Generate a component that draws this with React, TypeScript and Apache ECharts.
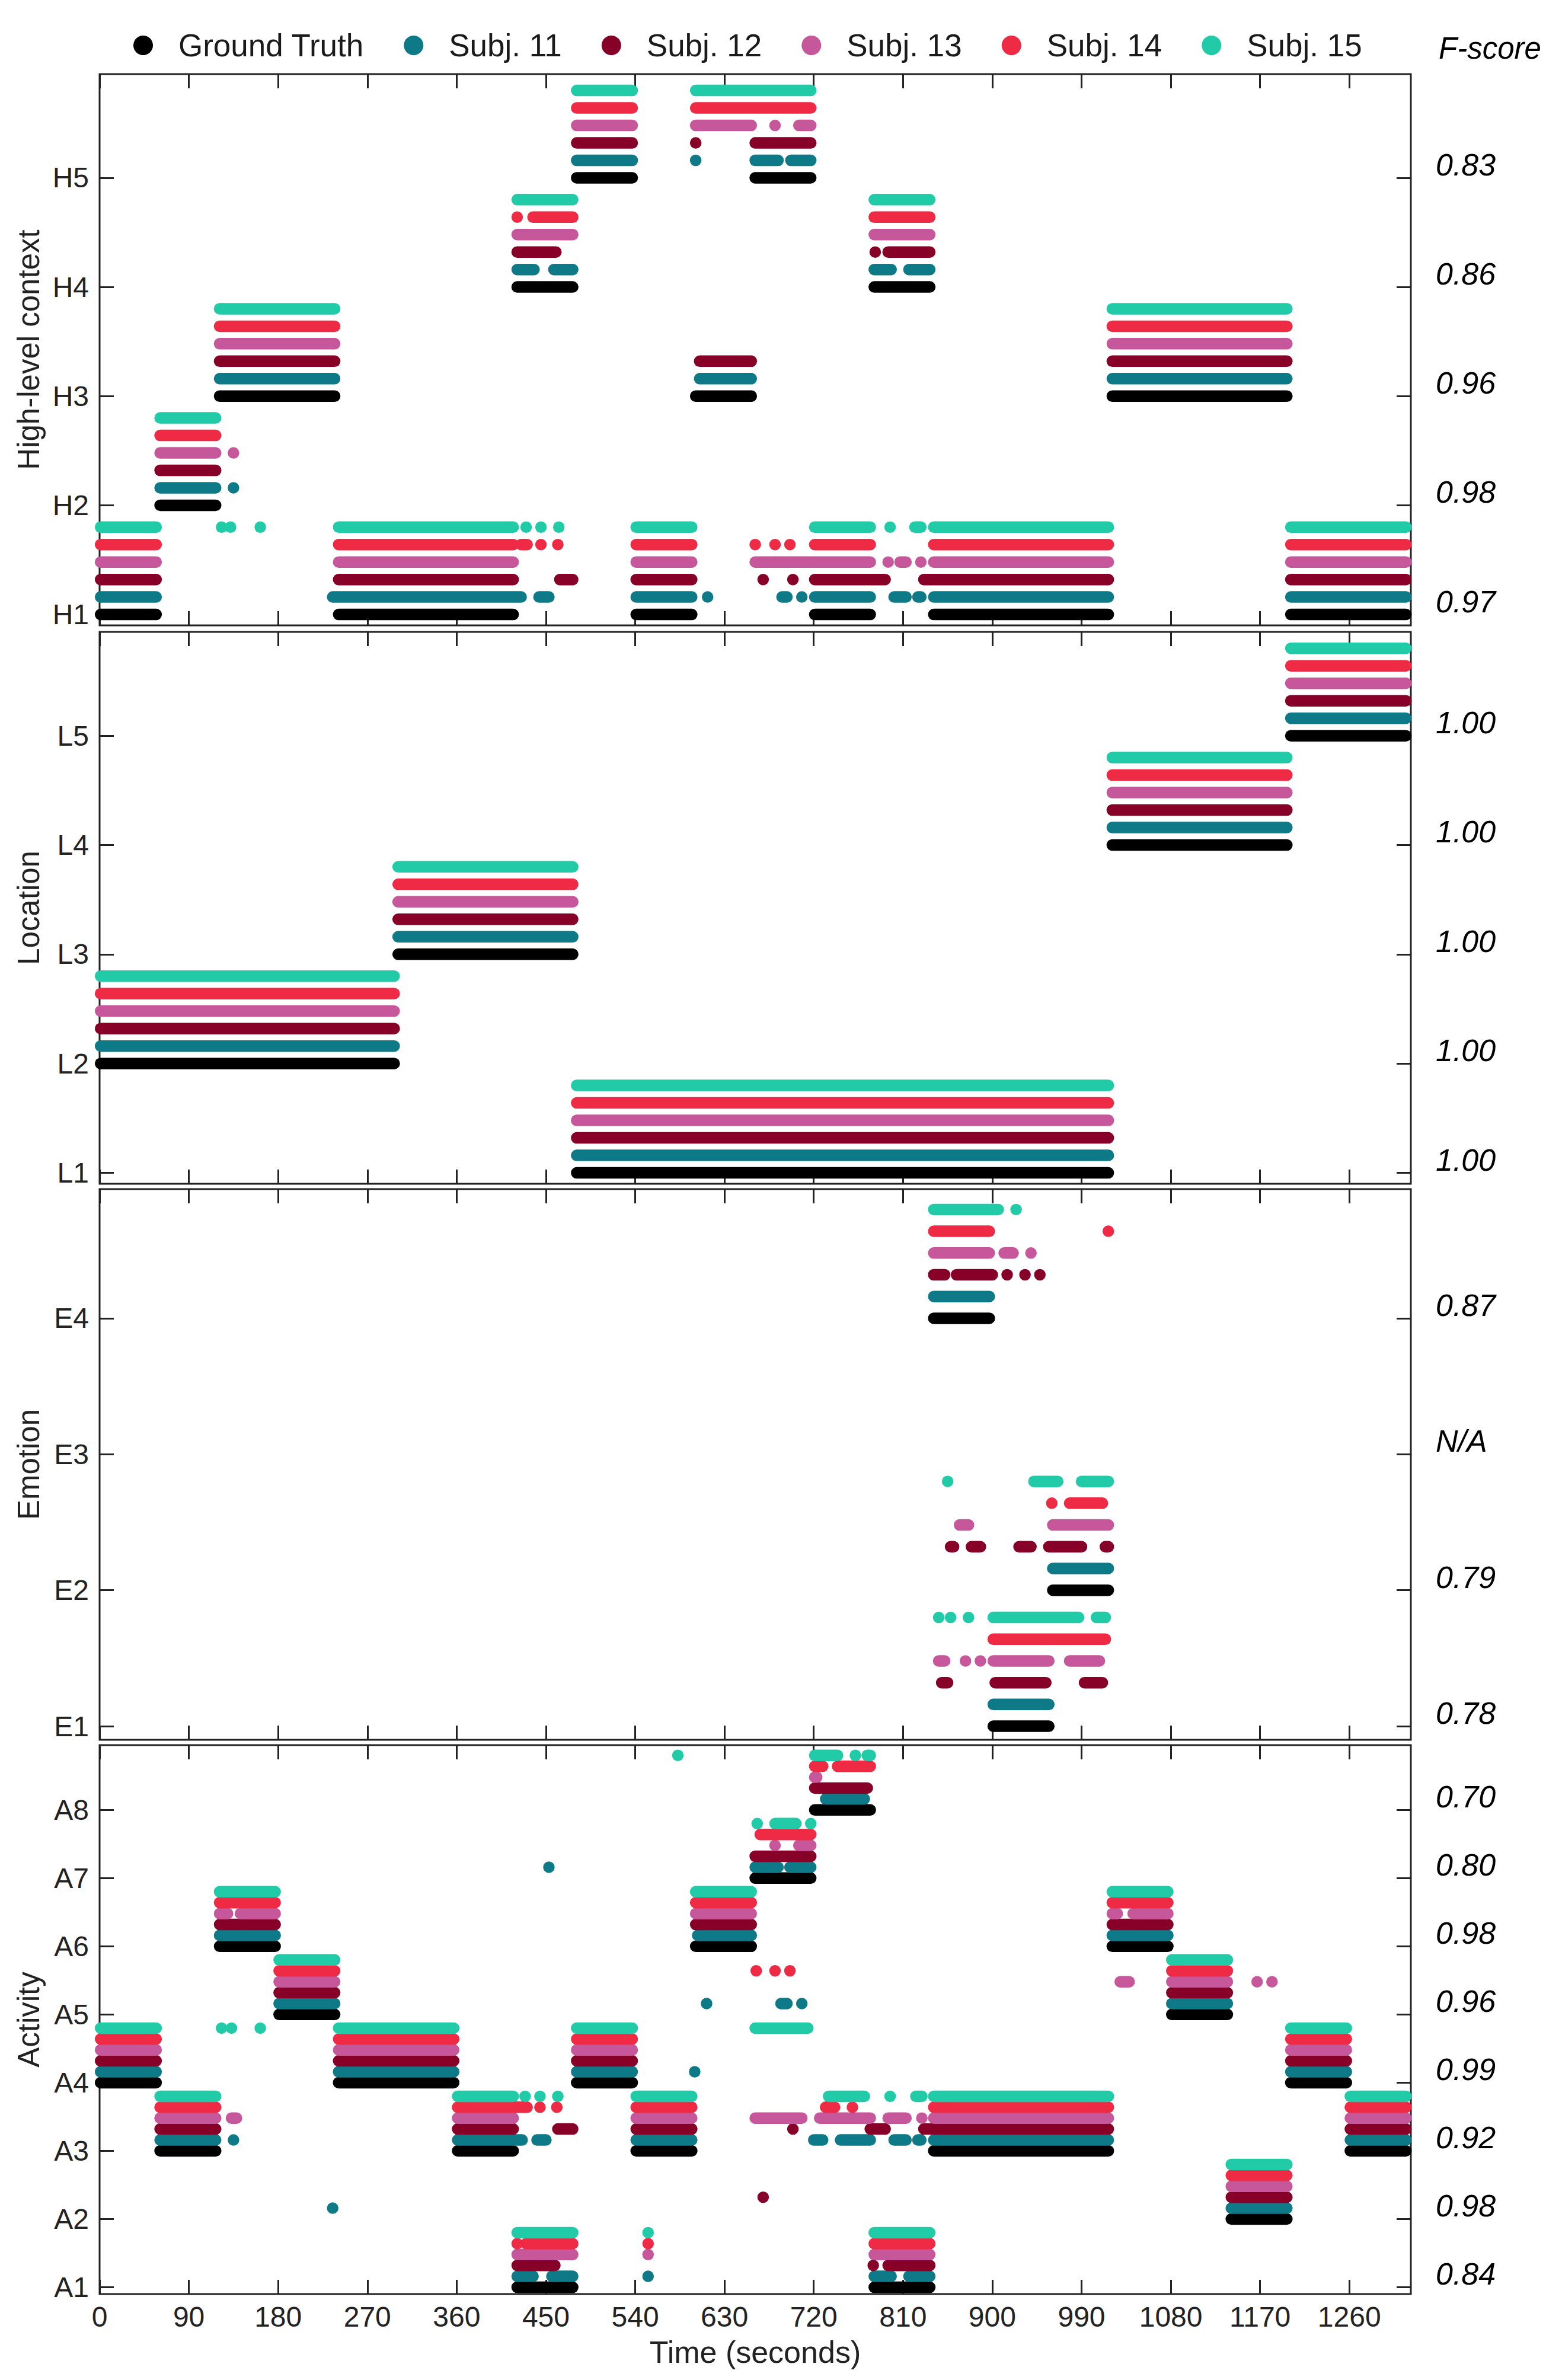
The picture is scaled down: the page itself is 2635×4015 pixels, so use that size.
import React, { useEffect, useRef } from 'react';
import * as echarts from 'echarts';

// ---------- categories / labels ----------
const seriesNames = ['Ground Truth', 'Subj. 11', 'Subj. 12', 'Subj. 13', 'Subj. 14', 'Subj. 15'];
const seriesColors = ['#000000', '#0F7A87', '#870028', '#C6579A', '#EE2A45', '#22CBA8'];
const rowOffsets = [0, 0.16, 0.32, 0.48, 0.64, 0.8];

const xTicks = [0, 90, 180, 270, 360, 450, 540, 630, 720, 810, 900, 990, 1080, 1170, 1260];

const hLabels = ['H1', 'H2', 'H3', 'H4', 'H5'];
const hFscores = ['0.97', '0.98', '0.96', '0.86', '0.83'];
const lLabels = ['L1', 'L2', 'L3', 'L4', 'L5'];
const lFscores = ['1.00', '1.00', '1.00', '1.00', '1.00'];
const eLabels = ['E1', 'E2', 'E3', 'E4'];
const eFscores = ['0.78', '0.79', 'N/A', '0.87'];
const aLabels = ['A1', 'A2', 'A3', 'A4', 'A5', 'A6', 'A7', 'A8'];
const aFscores = ['0.84', '0.98', '0.92', '0.99', '0.96', '0.98', '0.80', '0.70'];

// ---------- data: [start s, end s, level] ----------
// High-level context
const hGT = [[1,57,1],[61,117,2],[121,237,3],[241,417,1],[421,477,4],[481,537,5],[541,597,1],[601,657,3],[661,717,5],[721,777,1],[781,837,4],[841,1017,1],[1021,1197,3],[1201,1317,1]];
const hS11 = [[1,57,1],[61,117,2],[135,135,2],[121,237,3],[235,425,1],[443,453,1],[421,438,4],[458,477,4],[481,537,5],[541,597,1],[601,601,5],[605,657,3],[613,613,1],[661,684,5],[697,717,5],[688,693,1],[708,708,1],[721,777,1],[781,798,4],[816,837,4],[801,813,1],[825,828,1],[841,1017,1],[1021,1197,3],[1201,1317,1]];
const hS12 = [[1,57,1],[61,117,2],[121,237,3],[241,417,1],[464,477,1],[421,460,4],[481,537,5],[541,597,1],[601,601,5],[605,657,3],[661,717,5],[669,669,1],[699,699,1],[721,792,1],[782,782,4],[795,837,4],[831,1017,1],[1021,1197,3],[1201,1317,1]];
const hS13 = [[1,57,1],[61,117,2],[135,135,2],[121,237,3],[241,417,1],[421,477,4],[481,537,5],[541,597,1],[601,657,5],[681,681,5],[705,717,5],[661,777,1],[795,795,1],[807,813,1],[828,828,1],[781,837,4],[841,1017,1],[1021,1197,3],[1201,1317,1]];
const hS14 = [[1,57,1],[61,117,2],[121,237,3],[241,417,1],[425,431,1],[445,445,1],[462,462,1],[421,421,4],[437,477,4],[481,537,5],[541,597,1],[601,717,5],[661,661,1],[681,681,1],[696,696,1],[721,777,1],[781,837,4],[841,1017,1],[1021,1197,3],[1201,1317,1]];
const hS15 = [[1,57,1],[123,123,1],[132,132,1],[162,162,1],[61,117,2],[121,237,3],[241,417,1],[430,430,1],[445,445,1],[463,463,1],[421,477,4],[481,537,5],[541,597,1],[601,717,5],[721,777,1],[797,797,1],[822,828,1],[781,837,4],[841,1017,1],[1021,1197,3],[1201,1317,1]];

// Location (all subjects agree with the ground truth)
const lGT = [[1,297,2],[301,477,3],[481,1017,1],[1021,1197,4],[1201,1317,5]];
const lS11 = [[1,297,2],[301,477,3],[481,1017,1],[1021,1197,4],[1201,1317,5]];
const lS12 = [[1,297,2],[301,477,3],[481,1017,1],[1021,1197,4],[1201,1317,5]];
const lS13 = [[1,297,2],[301,477,3],[481,1017,1],[1021,1197,4],[1201,1317,5]];
const lS14 = [[1,297,2],[301,477,3],[481,1017,1],[1021,1197,4],[1201,1317,5]];
const lS15 = [[1,297,2],[301,477,3],[481,1017,1],[1021,1197,4],[1201,1317,5]];

// Emotion
const eGT = [[841,897,4],[901,957,1],[961,1017,2]];
const eS11 = [[841,897,4],[901,957,1],[961,1017,2]];
const eS12 = [[841,852,4],[864,900,4],[915,915,4],[933,933,4],[948,948,4],[858,861,2],[879,888,2],[927,939,2],[957,990,2],[1014,1017,2],[849,855,1],[903,954,1],[993,1011,1]];
const eS13 = [[841,897,4],[912,921,4],[939,939,4],[867,876,2],[961,1017,2],[846,852,1],[873,873,1],[888,888,1],[901,957,1],[978,1008,1]];
const eS14 = [[841,897,4],[1017,1017,4],[960,960,2],[978,1011,2],[901,1014,1]];
const eS15 = [[841,906,4],[924,924,4],[855,855,2],[942,966,2],[990,1017,2],[846,846,1],[858,858,1],[876,876,1],[901,987,1],[1005,1014,1]];

// Activity
const aGT = [[1,57,4],[61,117,3],[121,177,6],[181,237,5],[241,357,4],[361,417,3],[421,477,1],[481,537,4],[541,597,3],[601,657,6],[661,717,7],[721,777,8],[781,837,1],[841,1017,3],[1021,1077,6],[1081,1137,5],[1141,1197,2],[1201,1257,4],[1261,1317,3]];
const aS11 = [[1,57,4],[61,117,3],[135,135,3],[121,177,6],[181,237,5],[235,235,2],[241,357,4],[361,426,3],[441,450,3],[421,437,1],[456,477,1],[453,453,7],[481,537,4],[541,597,3],[553,553,1],[600,600,4],[603,657,6],[612,612,5],[687,693,5],[708,708,5],[661,684,7],[696,717,7],[732,771,8],[720,729,3],[747,777,3],[801,813,3],[825,828,3],[781,798,1],[816,837,1],[841,1017,3],[1021,1077,6],[1081,1137,5],[1141,1197,2],[1201,1257,4],[1261,1317,3]];
const aS12 = [[1,57,4],[61,117,3],[121,177,6],[181,237,5],[241,357,4],[361,417,3],[462,477,3],[421,459,1],[481,537,4],[541,597,3],[601,657,6],[661,717,7],[669,669,2],[699,699,3],[721,774,8],[777,792,3],[780,780,1],[795,837,1],[831,1017,3],[1021,1077,6],[1081,1137,5],[1141,1197,2],[1201,1257,4],[1261,1317,3]];
const aS13 = [[1,57,4],[61,117,3],[133,138,3],[121,129,6],[142,177,6],[181,237,5],[241,357,4],[361,417,3],[421,477,1],[481,537,4],[553,553,1],[541,597,3],[601,657,6],[681,681,7],[705,717,7],[661,708,3],[726,777,3],[795,813,3],[829,829,3],[721,723,8],[781,837,1],[841,1017,3],[1021,1026,6],[1042,1077,6],[1029,1038,5],[1081,1137,5],[1167,1167,5],[1182,1182,5],[1141,1197,2],[1201,1257,4],[1261,1317,3]];
const aS14 = [[1,57,4],[61,117,3],[121,177,6],[181,237,5],[241,357,4],[361,431,3],[444,444,3],[461,461,3],[421,421,1],[430,477,1],[481,537,4],[553,553,1],[541,597,3],[601,657,6],[662,662,5],[681,681,5],[696,696,5],[666,717,7],[721,729,8],[744,777,8],[732,741,3],[759,759,3],[781,837,1],[841,1017,3],[1021,1077,6],[1081,1137,5],[1141,1197,2],[1201,1257,4],[1261,1317,3]];
const aS15 = [[1,57,4],[123,123,4],[133,133,4],[162,162,4],[61,117,3],[121,177,6],[181,237,5],[241,357,4],[361,417,3],[429,429,3],[444,444,3],[462,462,3],[421,477,1],[481,537,4],[553,553,1],[541,597,3],[583,583,8],[601,657,6],[661,714,4],[663,663,7],[681,702,7],[717,717,7],[721,744,8],[762,762,8],[774,777,8],[735,771,3],[797,797,3],[823,829,3],[781,837,1],[841,1017,3],[1021,1077,6],[1081,1137,5],[1141,1197,2],[1201,1257,4],[1261,1317,3]];

// ---------- layout / style ----------
const FONT = '"Liberation Sans", Helvetica, Arial, sans-serif';
const AXIS_COLOR = '#222222';
const DOT = 19.5;
const X_MAX = 1322;

const panels = [
  { name: 'High-level context', labels: hLabels, fscores: hFscores, data: [hGT, hS11, hS12, hS13, hS14, hS15], top: 125, height: 930 },
  { name: 'Location', labels: lLabels, fscores: lFscores, data: [lGT, lS11, lS12, lS13, lS14, lS15], top: 1066, height: 931 },
  { name: 'Emotion', labels: eLabels, fscores: eFscores, data: [eGT, eS11, eS12, eS13, eS14, eS15], top: 2006, height: 929 },
  { name: 'Activity', labels: aLabels, fscores: aFscores, data: [aGT, aS11, aS12, aS13, aS14, aS15], top: 2944, height: 926 },
];

function buildOption() {
  const grid: any[] = [];
  const xAxis: any[] = [];
  const yAxis: any[] = [];
  const series: any[] = [];
  const tickStyle = { inside: true, length: 24, lineStyle: { color: AXIS_COLOR, width: 3 } };
  const noLine = { show: false, onZero: false };

  panels.forEach((p, i) => {
    const isLast = i === panels.length - 1;
    grid.push({ left: 168, right: 255, top: p.top, height: p.height, show: true, borderColor: AXIS_COLOR, borderWidth: 3, backgroundColor: 'transparent' });
    const levels = p.labels.map((_, k) => k + 1);
    // bottom x axis
    xAxis.push({
      type: 'value', gridIndex: i, min: 0, max: X_MAX, position: 'bottom',
      axisLine: noLine, splitLine: { show: false },
      axisTick: { ...tickStyle, customValues: xTicks },
      axisLabel: { show: isLast, customValues: xTicks, formatter: (v: number) => String(v), fontSize: 48, color: AXIS_COLOR, margin: 14, fontFamily: FONT },
      name: isLast ? 'Time (seconds)' : '', nameLocation: 'middle', nameGap: 72,
      nameTextStyle: { fontSize: 52, color: AXIS_COLOR, fontFamily: FONT },
    });
    // top x axis
    xAxis.push({
      type: 'value', gridIndex: i, min: 0, max: X_MAX, position: 'top',
      axisLine: noLine, splitLine: { show: false },
      axisTick: { ...tickStyle, customValues: xTicks },
      axisLabel: { show: false },
    });
    // left y axis
    yAxis.push({
      type: 'value', gridIndex: i, min: 0.9, max: p.labels.length + 0.95, position: 'left',
      axisLine: noLine, splitLine: { show: false },
      axisTick: { ...tickStyle, customValues: levels },
      axisLabel: { customValues: levels, formatter: (v: number) => p.labels[Math.round(v) - 1] ?? '', fontSize: 48, color: AXIS_COLOR, margin: 18, fontFamily: FONT },
      name: p.name, nameLocation: 'middle', nameRotate: 90, nameGap: 94,
      nameTextStyle: { fontSize: 51, color: AXIS_COLOR, fontFamily: FONT },
    });
    // right y axis (F-scores)
    yAxis.push({
      type: 'value', gridIndex: i, min: 0.9, max: p.labels.length + 0.95, position: 'right',
      axisLine: noLine, splitLine: { show: false },
      axisTick: { ...tickStyle, customValues: levels },
      axisLabel: { customValues: levels, formatter: (v: number) => p.fscores[Math.round(v) - 1] ?? '', fontSize: 52, color: '#000', margin: 42, fontStyle: 'italic', fontFamily: FONT, verticalAlign: 'bottom', lineHeight: 44 },
    });

    p.data.forEach((segs, s) => {
      const color = seriesColors[s];
      series.push({
        type: 'custom', name: seriesNames[s], xAxisIndex: 2 * i, yAxisIndex: 2 * i,
        itemStyle: { color }, clip: false, silent: true,
        encode: { x: [0, 1], y: 2 },
        data: segs.map((d) => [d[0], d[1], d[2] + rowOffsets[s]]),
        renderItem: (_params: any, api: any) => {
          const p0 = api.coord([api.value(0), api.value(2)]);
          const p1 = api.coord([api.value(1), api.value(2)]);
          const r = DOT / 2;
          return {
            type: 'rect',
            shape: { x: p0[0] - r, y: p0[1] - r, width: p1[0] - p0[0] + 2 * r, height: 2 * r, r },
            style: { fill: color },
          };
        },
      });
    });
  });

  return {
    animation: false,
    backgroundColor: '#ffffff',
    textStyle: { fontFamily: FONT },
    title: {
      text: 'F-score', left: 2422, top: 51,
      textStyle: { fontSize: 51, fontStyle: 'italic', fontWeight: 'normal', color: '#000', fontFamily: FONT },
    },
    legend: {
      data: seriesNames, icon: 'circle', itemWidth: 33, itemHeight: 33, itemGap: 67,
      left: 220, top: 45, selectedMode: false,
      textStyle: { fontSize: 53, color: '#1a1a1a', fontFamily: FONT, padding: [0, 0, 0, 38] },
    },
    grid, xAxis, yAxis, series,
  };
}

export default function App() {
  const ref = useRef<HTMLDivElement>(null);
  useEffect(() => {
    document.body.style.margin = '0';
    const chart = echarts.init(ref.current as HTMLDivElement, null, { renderer: 'svg' });
    chart.setOption(buildOption() as any);
    return () => chart.dispose();
  }, []);
  return <div ref={ref} style={{ position: 'absolute', left: 0, top: 0, width: 2635, height: 4015, background: '#fff' }} />;
}
